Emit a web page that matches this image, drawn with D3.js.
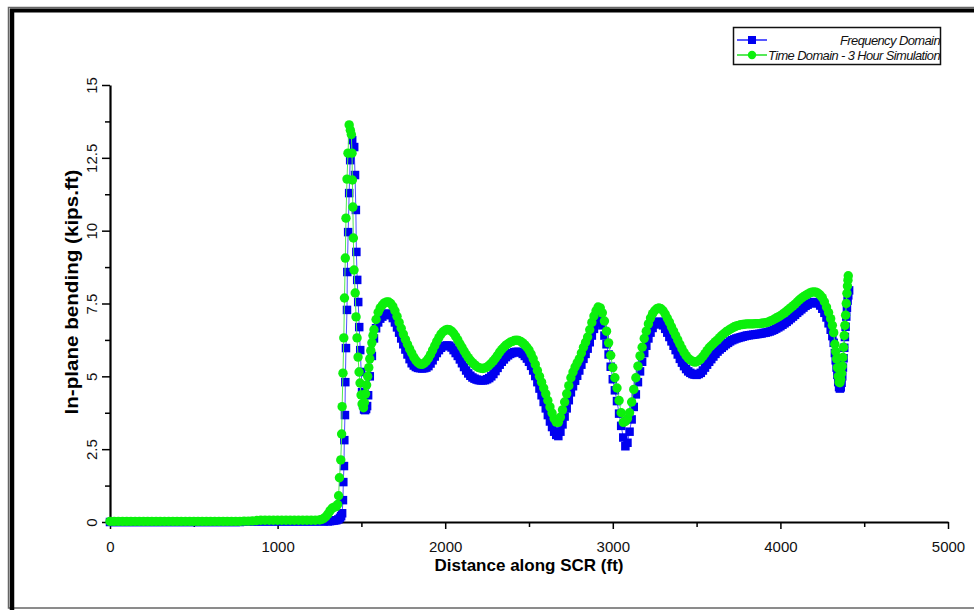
<!DOCTYPE html>
<html>
<head>
<meta charset="utf-8">
<script src="https://cdn.jsdelivr.net/npm/d3@7/dist/d3.min.js"></script>
<style>
    body { margin: 0; background: #fff; }
    svg { display: block; font-family: "Liberation Sans", Arial, sans-serif; }
</style>
</head>
<body>
<div id="chart"></div>
<script>
// axis ticks
const xTicks = [0, 1000, 2000, 3000, 4000, 5000];
const xMinorTicks = [500, 1500, 2500, 3500, 4500];
const yTicks = [0, 2.5, 5, 7.5, 10, 12.5, 15];
const yMinorTicks = [1.25, 3.75, 6.25, 8.75, 11.25, 13.75];

const seriesNames = ["Frequency Domain", "Time Domain - 3 Hour Simulation"];

// Frequency domain: [distance along SCR (ft), in-plane bending (kips.ft)]
const freqDomain = [
    [0, 0], [25, 0], [50, 0], [75, 0], [100, 0], [125, 0], [150, 0], [175, 0], [200, 0],
    [225, 0], [250, 0], [275, 0], [300, 0], [325, 0], [350, 0], [375, 0], [400, 0],
    [425, 0], [450, 0], [475, 0], [500, 0], [525, 0], [550, 0], [575, 0], [600, 0],
    [625, 0], [650, 0], [675, 0], [700, 0], [725, 0], [750, 0], [775, 0], [800, 0.02],
    [825, 0.02], [850, 0.02], [875, 0.02], [900, 0.02], [925, 0.02], [950, 0.02],
    [975, 0.02], [1000, 0.02], [1025, 0.02], [1050, 0.02], [1075, 0.02], [1100, 0.02],
    [1125, 0.02], [1150, 0.02], [1175, 0.02], [1200, 0.02], [1225, 0.02], [1250, 0.02],
    [1275, 0.02], [1300, 0.02], [1312.5, 0.03], [1325, 0.04], [1337.5, 0.05], [1350, 0.06],
    [1362.5, 0.09], [1372, 0.14], [1379, 0.2], [1385, 0.3], [1390, 0.75], [1392, 1.37],
    [1396, 1.92], [1398, 2.81], [1402, 3.67], [1404, 4.8], [1408, 5.97], [1414, 7.28],
    [1416, 8.58], [1421, 9.95], [1427, 11.29], [1433, 12.42], [1445, 13.11], [1457, 12.87],
    [1462, 11.91], [1467, 10.71], [1470, 9.27], [1475, 8.31], [1481, 7.55], [1487, 6.69],
    [1493, 5.9], [1499, 5.15], [1504, 4.46], [1510, 4.02], [1516, 3.86], [1522, 3.84],
    [1528, 3.88], [1534, 3.98], [1540, 4.35], [1550, 5.0], [1562.5, 5.7], [1575, 6.3],
    [1587.5, 6.65], [1600, 6.85], [1612.5, 6.98], [1625, 7.05], [1637.5, 7.11], [1650, 7.15],
    [1662.5, 7.15], [1675, 7.1], [1687.5, 7.0], [1700, 6.85], [1712.5, 6.68], [1725, 6.5],
    [1737.5, 6.3], [1750, 6.1], [1762.5, 5.92], [1775, 5.75], [1787.5, 5.59], [1800, 5.45],
    [1812.5, 5.37], [1825, 5.32], [1837.5, 5.29], [1850, 5.28], [1862.5, 5.27], [1875, 5.28],
    [1887.5, 5.3], [1900, 5.35], [1912.5, 5.44], [1925, 5.55], [1937.5, 5.68], [1950, 5.8],
    [1962.5, 5.9], [1975, 5.98], [1987.5, 6.03], [2000, 6.05], [2012.5, 6.06], [2025, 6.05],
    [2037.5, 5.99], [2050, 5.9], [2062.5, 5.8], [2075, 5.7], [2087.5, 5.58], [2100, 5.45],
    [2112.5, 5.32], [2125, 5.2], [2137.5, 5.1], [2150, 5.02], [2162.5, 4.96], [2175, 4.92],
    [2187.5, 4.89], [2200, 4.87], [2212.5, 4.86], [2225, 4.86], [2237.5, 4.87], [2250, 4.9],
    [2262.5, 4.94], [2275, 5.0], [2287.5, 5.08], [2300, 5.18], [2312.5, 5.29], [2325, 5.4],
    [2337.5, 5.5], [2350, 5.58], [2362.5, 5.66], [2375, 5.72], [2387.5, 5.77], [2400, 5.8],
    [2412.5, 5.83], [2425, 5.84], [2437.5, 5.84], [2450, 5.82], [2462.5, 5.77], [2475, 5.7],
    [2487.5, 5.61], [2500, 5.5], [2512.5, 5.36], [2525, 5.2], [2537.5, 5.01], [2550, 4.8],
    [2562.5, 4.58], [2575, 4.35], [2587.5, 4.12], [2600, 3.9], [2612.5, 3.67], [2625, 3.45],
    [2637.5, 3.26], [2650, 3.1], [2662.5, 2.99], [2675, 2.95], [2687.5, 3.1], [2700, 3.35],
    [2712.5, 3.62], [2725, 3.9], [2737.5, 4.18], [2750, 4.45], [2762.5, 4.66], [2775, 4.85],
    [2787.5, 5.02], [2800, 5.2], [2812.5, 5.4], [2825, 5.6], [2837.5, 5.77], [2850, 5.95],
    [2862.5, 6.17], [2875, 6.4], [2887.5, 6.63], [2900, 6.85], [2912.5, 7.0], [2925, 6.97],
    [2937.5, 6.75], [2950, 6.4], [2962.5, 6.1], [2975, 5.75], [2987.5, 5.33], [3000, 4.9],
    [3012.5, 4.52], [3025, 4.15], [3037.5, 3.72], [3050, 3.3], [3062.5, 2.9], [3075, 2.6],
    [3087.5, 2.72], [3100, 3.1], [3112.5, 3.52], [3125, 3.95], [3137.5, 4.38], [3150, 4.8],
    [3162.5, 5.17], [3175, 5.5], [3187.5, 5.8], [3200, 6.05], [3212.5, 6.3], [3225, 6.5],
    [3237.5, 6.66], [3250, 6.78], [3262.5, 6.85], [3275, 6.88], [3287.5, 6.83], [3300, 6.75],
    [3312.5, 6.63], [3325, 6.5], [3337.5, 6.35], [3350, 6.2], [3362.5, 6.05], [3375, 5.9],
    [3387.5, 5.75], [3400, 5.6], [3412.5, 5.47], [3425, 5.35], [3437.5, 5.25], [3450, 5.17],
    [3462.5, 5.12], [3475, 5.08], [3487.5, 5.06], [3500, 5.05], [3512.5, 5.08], [3525, 5.12],
    [3537.5, 5.2], [3550, 5.3], [3562.5, 5.4], [3575, 5.5], [3587.5, 5.59], [3600, 5.68],
    [3612.5, 5.77], [3625, 5.85], [3637.5, 5.92], [3650, 5.98], [3662.5, 6.04], [3675, 6.1],
    [3687.5, 6.15], [3700, 6.2], [3712.5, 6.24], [3725, 6.27], [3737.5, 6.3], [3750, 6.32],
    [3762.5, 6.34], [3775, 6.36], [3787.5, 6.38], [3800, 6.4], [3812.5, 6.41], [3825, 6.42],
    [3837.5, 6.43], [3850, 6.44], [3862.5, 6.45], [3875, 6.46], [3887.5, 6.47], [3900, 6.49],
    [3912.5, 6.5], [3925, 6.52], [3937.5, 6.54], [3950, 6.57], [3962.5, 6.6], [3975, 6.64],
    [3987.5, 6.68], [4000, 6.72], [4012.5, 6.77], [4025, 6.82], [4037.5, 6.87], [4050, 6.93],
    [4062.5, 6.99], [4075, 7.05], [4087.5, 7.11], [4100, 7.18], [4112.5, 7.24], [4125, 7.3],
    [4137.5, 7.36], [4150, 7.42], [4162.5, 7.46], [4175, 7.5], [4187.5, 7.53], [4200, 7.55],
    [4212.5, 7.54], [4225, 7.5], [4237.5, 7.43], [4250, 7.32], [4262.5, 7.18], [4275, 7.02],
    [4287.5, 6.82], [4300, 6.6], [4310, 6.38], [4318, 6.15], [4325, 5.8], [4330, 5.55],
    [4335, 5.3], [4340, 5.05], [4345, 4.8], [4350, 4.63], [4355, 4.58], [4360, 4.62],
    [4365, 4.78], [4369, 5.0], [4373, 5.3], [4377, 5.62], [4381, 5.98], [4385, 6.35],
    [4389, 6.7], [4393, 7.05], [4397, 7.35], [4401, 7.6], [4405, 7.78], [4410, 7.95]
];

// Time domain (3 hour simulation): [distance along SCR (ft), in-plane bending (kips.ft)]
const timeDomain = [
    [0, 0.02], [25, 0.02], [50, 0.02], [75, 0.02], [100, 0.02], [125, 0.02], [150, 0.02],
    [175, 0.02], [200, 0.02], [225, 0.02], [250, 0.02], [275, 0.02], [300, 0.02], [325, 0.02],
    [350, 0.02], [375, 0.02], [400, 0.02], [425, 0.02], [450, 0.02], [475, 0.02], [500, 0.02],
    [525, 0.02], [550, 0.02], [575, 0.02], [600, 0.02], [625, 0.02], [650, 0.02], [675, 0.02],
    [700, 0.02], [725, 0.02], [750, 0.02], [775, 0.02], [800, 0.03], [825, 0.03], [850, 0.04],
    [875, 0.05], [900, 0.06], [925, 0.06], [950, 0.06], [975, 0.06], [1000, 0.06], [1025, 0.06],
    [1050, 0.06], [1075, 0.06], [1100, 0.06], [1125, 0.06], [1150, 0.06], [1175, 0.06],
    [1200, 0.06], [1225, 0.06], [1250, 0.07], [1262.5, 0.09], [1275, 0.12], [1287.5, 0.18],
    [1300, 0.27], [1312.5, 0.38], [1325, 0.47], [1337.5, 0.51], [1350, 0.53], [1358, 0.6],
    [1364, 0.9], [1369, 1.52], [1377, 2.13], [1382, 3.02], [1385, 3.96], [1390, 5.11],
    [1395, 6.32], [1399, 7.69], [1404, 9.06], [1408, 10.43], [1414, 11.77], [1420, 12.66],
    [1427, 13.63], [1434, 13.45], [1440, 13.3], [1444, 12.66], [1446, 11.74], [1449, 10.81],
    [1452, 9.75], [1456, 8.65], [1463, 7.86], [1468, 7.04], [1474, 6.32], [1480, 5.66],
    [1486, 5.15], [1492, 4.77], [1498, 4.36], [1504, 4.05], [1512.5, 3.92], [1518, 4.1],
    [1525, 4.4], [1531, 4.7], [1537.5, 5.0], [1544, 5.3], [1550, 5.6], [1556, 5.88],
    [1562.5, 6.15], [1569, 6.4], [1575, 6.6], [1587.5, 6.95], [1600, 7.2], [1612.5, 7.35],
    [1625, 7.45], [1637.5, 7.52], [1650, 7.55], [1662.5, 7.55], [1675, 7.5], [1687.5, 7.4],
    [1700, 7.25], [1712.5, 7.06], [1725, 6.85], [1737.5, 6.65], [1750, 6.45], [1762.5, 6.27],
    [1775, 6.1], [1787.5, 5.94], [1800, 5.8], [1812.5, 5.66], [1825, 5.55], [1837.5, 5.47],
    [1850, 5.42], [1862.5, 5.41], [1875, 5.45], [1887.5, 5.52], [1900, 5.62], [1912.5, 5.75],
    [1925, 5.9], [1937.5, 6.05], [1950, 6.2], [1962.5, 6.33], [1975, 6.45], [1987.5, 6.53],
    [2000, 6.58], [2012.5, 6.61], [2025, 6.6], [2037.5, 6.55], [2050, 6.48], [2062.5, 6.37],
    [2075, 6.25], [2087.5, 6.12], [2100, 6.0], [2112.5, 5.87], [2125, 5.75], [2137.5, 5.64],
    [2150, 5.55], [2162.5, 5.47], [2175, 5.4], [2187.5, 5.34], [2200, 5.3], [2212.5, 5.28],
    [2225, 5.27], [2237.5, 5.29], [2250, 5.32], [2262.5, 5.38], [2275, 5.45], [2287.5, 5.53],
    [2300, 5.62], [2312.5, 5.72], [2325, 5.83], [2337.5, 5.92], [2350, 6.0], [2362.5, 6.07],
    [2375, 6.12], [2387.5, 6.17], [2400, 6.2], [2412.5, 6.23], [2425, 6.24], [2437.5, 6.23],
    [2450, 6.2], [2462.5, 6.15], [2475, 6.08], [2487.5, 6.0], [2500, 5.9], [2512.5, 5.76],
    [2525, 5.6], [2537.5, 5.41], [2550, 5.2], [2562.5, 5.0], [2575, 4.8], [2587.5, 4.6],
    [2600, 4.4], [2612.5, 4.17], [2625, 3.95], [2637.5, 3.74], [2650, 3.55], [2662.5, 3.43],
    [2675, 3.42], [2687.5, 3.6], [2700, 3.85], [2712.5, 4.12], [2725, 4.4], [2737.5, 4.68],
    [2750, 4.95], [2762.5, 5.15], [2775, 5.32], [2787.5, 5.46], [2800, 5.6], [2812.5, 5.8],
    [2825, 6.0], [2837.5, 6.17], [2850, 6.35], [2862.5, 6.6], [2875, 6.85], [2887.5, 7.07],
    [2900, 7.25], [2912.5, 7.38], [2925, 7.35], [2937.5, 7.18], [2950, 6.9], [2962.5, 6.55],
    [2975, 6.15], [2987.5, 5.72], [3000, 5.3], [3012.5, 4.95], [3025, 4.6], [3037.5, 4.17],
    [3050, 3.75], [3062.5, 3.42], [3075, 3.45], [3087.5, 3.55], [3100, 3.75], [3112.5, 4.12],
    [3125, 4.55], [3137.5, 4.95], [3150, 5.35], [3162.5, 5.7], [3175, 6.0], [3187.5, 6.3],
    [3200, 6.55], [3212.5, 6.8], [3225, 7.0], [3237.5, 7.15], [3250, 7.25], [3262.5, 7.32],
    [3275, 7.35], [3287.5, 7.32], [3300, 7.25], [3312.5, 7.14], [3325, 7.0], [3337.5, 6.86],
    [3350, 6.7], [3362.5, 6.55], [3375, 6.4], [3387.5, 6.25], [3400, 6.1], [3412.5, 5.95],
    [3425, 5.82], [3437.5, 5.71], [3450, 5.62], [3462.5, 5.56], [3475, 5.52], [3487.5, 5.49],
    [3500, 5.5], [3512.5, 5.54], [3525, 5.6], [3537.5, 5.68], [3550, 5.78], [3562.5, 5.88],
    [3575, 5.98], [3587.5, 6.05], [3600, 6.12], [3612.5, 6.19], [3625, 6.25], [3637.5, 6.33],
    [3650, 6.4], [3662.5, 6.46], [3675, 6.52], [3687.5, 6.57], [3700, 6.62], [3712.5, 6.66],
    [3725, 6.7], [3737.5, 6.73], [3750, 6.75], [3762.5, 6.77], [3775, 6.78], [3787.5, 6.79],
    [3800, 6.8], [3812.5, 6.8], [3825, 6.8], [3837.5, 6.8], [3850, 6.81], [3862.5, 6.81],
    [3875, 6.81], [3887.5, 6.82], [3900, 6.83], [3912.5, 6.84], [3925, 6.86], [3937.5, 6.89],
    [3950, 6.92], [3962.5, 6.96], [3975, 7.0], [3987.5, 7.04], [4000, 7.08], [4012.5, 7.13],
    [4025, 7.18], [4037.5, 7.24], [4050, 7.3], [4062.5, 7.36], [4075, 7.42], [4087.5, 7.48],
    [4100, 7.55], [4112.5, 7.62], [4125, 7.68], [4137.5, 7.73], [4150, 7.78], [4162.5, 7.82],
    [4175, 7.86], [4187.5, 7.89], [4200, 7.9], [4212.5, 7.89], [4225, 7.85], [4237.5, 7.79],
    [4250, 7.7], [4262.5, 7.56], [4275, 7.38], [4287.5, 7.19], [4300, 6.98], [4310, 6.75],
    [4318, 6.5], [4325, 6.1], [4330, 5.85], [4335, 5.6], [4340, 5.3], [4345, 5.0],
    [4350, 4.8], [4355, 4.78], [4360, 4.9], [4365, 5.1], [4369, 5.35], [4373, 5.65],
    [4377, 6.0], [4381, 6.4], [4385, 6.75], [4389, 7.1], [4393, 7.5], [4397, 7.85],
    [4400, 8.1], [4403, 8.3], [4405, 8.45]
];

const width = 974;
const height = 610;
const marginTop = 85;
const marginRight = 26;
const marginBottom = 88;
const marginLeft = 110;

const blueColor = "#0000f0";
const greenColor = "#0cf00c";

const svg = d3.select("#chart")
    .append("svg")
    .attr("width", width)
    .attr("height", height);

// page frame (thick black top/left edge, thin grey around)
svg.append("rect")
    .attr("x", 8.5).attr("y", 7.5)
    .attr("width", 990).attr("height", 600.5)
    .attr("fill", "none")
    .attr("stroke", "#666")
    .attr("stroke-width", 1.5);
svg.append("line")
    .attr("x1", 10).attr("x2", width).attr("y1", 10.5).attr("y2", 10.5)
    .attr("stroke", "#000").attr("stroke-width", 4);
svg.append("line")
    .attr("x1", 12).attr("x2", 12).attr("y1", 9).attr("y2", height)
    .attr("stroke", "#000").attr("stroke-width", 4.5);

const x = d3.scaleLinear()
    .domain([0, 5000])
    .range([marginLeft, width - marginRight]);

const y = d3.scaleLinear()
    .domain([0, 15])
    .range([height - marginBottom, marginTop]);

// x axis
const xAxisG = svg.append("g")
    .attr("transform", `translate(0,${height - marginBottom})`);
xAxisG.append("g")
    .call(d3.axisBottom(x).tickValues(xMinorTicks).tickSize(5).tickFormat(""))
    .call((g) => g.select(".domain").remove());
xAxisG.append("g")
    .call(d3.axisBottom(x).tickValues(xTicks).tickSize(7).tickSizeOuter(0)
        .tickFormat((d) => String(d)))
    .call((g) => g.select(".domain").attr("stroke-width", 2.2))
    .call((g) => g.selectAll("text")
        .attr("y", 19)
        .attr("font-size", 15)
        .attr("fill", "#111"));
xAxisG.selectAll(".tick line").attr("stroke-width", 1.5);

svg.append("text")
    .attr("x", 529)
    .attr("y", 571)
    .attr("text-anchor", "middle")
    .attr("font-size", 17)
    .attr("font-weight", "bold")
    .text("Distance along SCR (ft)");

// y axis
const yAxisG = svg.append("g")
    .attr("transform", `translate(${marginLeft},0)`);
yAxisG.append("g")
    .call(d3.axisLeft(y).tickValues(yMinorTicks).tickSize(5).tickFormat(""))
    .call((g) => g.select(".domain").remove());
yAxisG.append("g")
    .call(d3.axisLeft(y).tickValues(yTicks).tickSize(8).tickSizeOuter(0)
        .tickFormat((d) => String(d)))
    .call((g) => g.select(".domain").attr("stroke-width", 2.2))
    .call((g) => g.selectAll("text")
        .attr("x", 0)
        .attr("y", -13)
        .attr("dy", 0)
        .attr("text-anchor", "middle")
        .attr("transform", "rotate(-90)")
        .attr("font-size", 15)
        .attr("fill", "#111"));
yAxisG.selectAll(".tick line").attr("stroke-width", 1.5);

svg.append("text")
    .attr("transform", "translate(78,292) rotate(-90)")
    .attr("text-anchor", "middle")
    .attr("font-size", 18)
    .attr("font-weight", "bold")
    .attr("textLength", 245)
    .attr("lengthAdjust", "spacingAndGlyphs")
    .text("In-plane bending (kips.ft)");

// series
const line = d3.line()
    .x((d) => x(d[0]))
    .y((d) => y(d[1]));

const freqG = svg.append("g");
freqG.append("path")
    .datum(freqDomain)
    .attr("d", line)
    .attr("fill", "none")
    .attr("stroke", "#5050ff")
    .attr("stroke-width", 1);
freqG.selectAll("rect")
    .data(freqDomain)
    .enter()
    .append("rect")
    .attr("x", (d) => x(d[0]) - 4.25)
    .attr("y", (d) => y(d[1]) - 4.25)
    .attr("width", 8.5)
    .attr("height", 8.5)
    .attr("fill", blueColor);

const timeG = svg.append("g");
timeG.append("path")
    .datum(timeDomain)
    .attr("d", line)
    .attr("fill", "none")
    .attr("stroke", "#50e850")
    .attr("stroke-width", 1);
timeG.selectAll("circle")
    .data(timeDomain)
    .enter()
    .append("circle")
    .attr("cx", (d) => x(d[0]))
    .attr("cy", (d) => y(d[1]))
    .attr("r", 4.7)
    .attr("fill", greenColor);

// legend
const legend = svg.append("g");
legend.append("rect")
    .attr("x", 733.5).attr("y", 27.5)
    .attr("width", 207).attr("height", 37)
    .attr("fill", "#fff")
    .attr("stroke", "#111")
    .attr("stroke-width", 1.5);

const legendRows = [
    { name: seriesNames[0], color: blueColor, lineColor: "#2020ff", shape: "square", y: 40 },
    { name: seriesNames[1], color: greenColor, lineColor: "#20e020", shape: "circle", y: 55 },
];

legendRows.forEach((r, i) => {
    legend.append("line")
        .attr("x1", 737).attr("x2", 767)
        .attr("y1", r.y).attr("y2", r.y)
        .attr("stroke", r.lineColor)
        .attr("stroke-width", 1.5);
    if (r.shape === "square") {
        legend.append("rect")
            .attr("x", 748).attr("y", r.y - 4)
            .attr("width", 8).attr("height", 8)
            .attr("fill", r.color);
    } else {
        legend.append("circle")
            .attr("cx", 752).attr("cy", r.y)
            .attr("r", 4.2)
            .attr("fill", r.color);
    }
    const t = legend.append("text")
        .attr("y", r.y + 4.5)
        .attr("font-size", 13)
        .attr("font-style", "italic")
        .attr("letter-spacing", -0.6)
        .attr("fill", "#111")
        .attr("lengthAdjust", "spacingAndGlyphs")
        .text(r.name);
    if (i === 0) {
        t.attr("x", 840).attr("textLength", 100);
    } else {
        t.attr("x", 768).attr("textLength", 172);
    }
});
</script>
</body>
</html>
